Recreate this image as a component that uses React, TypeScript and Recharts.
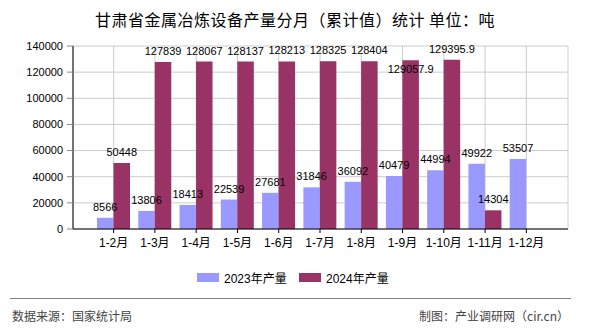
import React from 'react';
import { BarChart, Bar, XAxis, YAxis, CartesianGrid, LabelList } from 'recharts';

const categories = ['1-2月', '1-3月', '1-4月', '1-5月', '1-6月', '1-7月', '1-8月', '1-9月', '1-10月', '1-11月', '1-12月'];
const output2023 = [8566, 13806, 18413, 22539, 27681, 31846, 36092, 40479, 44994, 49922, 53507];
const output2024: (number | null)[] = [50448, 127839, 128067, 128137, 128213, 128325, 128404, 129057.9, 129395.9, 14304, null];
const yTicks = [0, 20000, 40000, 60000, 80000, 100000, 120000, 140000];
const seriesNames = ['2023年产量', '2024年产量'];
const colors = ['#9999FF', '#993366'];

const data = categories.map((c, i) => ({ name: c, a: output2023[i], b: output2024[i] }));

const FONT = '"Liberation Sans", "Noto Sans CJK SC", sans-serif';
const CJK = '"Noto Sans CJK SC", "Liberation Sans", sans-serif';
const LABEL_OFFSET = 7;
const CHAR_W = 6;
const BAR_SIZE = 16.5;

const makeLabel = (values: (number | null)[]) => (props: any) => {
  const { value, index } = props;
  const vb = props.viewBox || props;
  const x = vb.x, y = vb.y, width = vb.width, height = vb.height;
  if (value === null || value === undefined || !height) return null;
  const step = (width * 2) / 0.8;
  const bottom = y + height;
  const pxPerUnit = height / value;
  // simple collision avoidance: push a label down when it overlaps the previous one
  const shifts: number[] = [];
  for (let i = 0; i <= index; i++) {
    const v = values[i];
    shifts[i] = 0;
    if (v == null || i === 0) continue;
    const pv = values[i - 1];
    if (pv == null) continue;
    const w = String(v).length * CHAR_W;
    const pw = String(pv).length * CHAR_W;
    const base = bottom - v * pxPerUnit - LABEL_OFFSET;
    const pbase = bottom - pv * pxPerUnit - LABEL_OFFSET + shifts[i - 1];
    if (step < (w + pw) / 2 && Math.abs(base - pbase) < 12) shifts[i] = 20;
  }
  const cx = x + width / 2;
  return (
    <text x={cx} y={y - LABEL_OFFSET + shifts[index]} textAnchor="middle" fontSize={11} fontFamily={FONT} fill="#000">
      {String(value)}
    </text>
  );
};

export default function App() {
  return (
    <div style={{ position: 'relative', width: 590, height: 330, background: '#fff', overflow: 'hidden' }}>
      <style>{'body{margin:0}'}</style>
      <div style={{ position: 'absolute', top: 8, left: 0, width: 590, textAlign: 'center', fontSize: 16, fontFamily: CJK, color: '#000', lineHeight: '22px', letterSpacing: 0.5 }}>
        甘肃省金属冶炼设备产量分月（累计值）统计 单位：吨
      </div>
      <div style={{ position: 'absolute', top: 0, left: 0 }}>
        <BarChart width={590} height={330} data={data} margin={{ top: 46, right: 22, bottom: 71, left: 13 }} barCategoryGap="20%" barGap={0}>
          <CartesianGrid stroke="#cccccc" />
          <XAxis
            dataKey="name"
            height={30}
            padding={{ left: 20, right: 21 }}
            axisLine={{ stroke: '#000' }}
            tickLine={{ stroke: '#000' }}
            tickSize={4}
            tickMargin={5}
            interval={0}
            tick={{ fontSize: 12, fill: '#000', fontFamily: FONT }}
          />
          <YAxis
            width={60}
            domain={[0, 140000]}
            ticks={yTicks}
            axisLine={{ stroke: '#000' }}
            tickLine={{ stroke: '#888' }}
            tickSize={6}
            tickMargin={4}
            tick={{ fontSize: 11, fill: '#000', fontFamily: FONT }}
          />
          <YAxis yAxisId="r" orientation="right" width={0} tick={false} tickLine={false} axisLine={{ stroke: '#cccccc' }} />
          <Bar dataKey="a" fill={colors[0]} barSize={BAR_SIZE} isAnimationActive={false}>
            <LabelList dataKey="a" content={makeLabel(output2023)} />
          </Bar>
          <Bar dataKey="b" fill={colors[1]} barSize={BAR_SIZE} isAnimationActive={false}>
            <LabelList dataKey="b" content={makeLabel(output2024)} />
          </Bar>
        </BarChart>
      </div>
      {seriesNames.map((n, i) => (
        <div key={n} style={{ position: 'absolute', top: 269, left: 197 + i * 102, height: 16, display: 'flex', alignItems: 'center', fontFamily: FONT, fontSize: 12, color: '#000' }}>
          <span style={{ display: 'inline-block', width: 22, height: 9, background: colors[i], marginRight: 5 }} />
          <span>{n}</span>
        </div>
      ))}
      <div style={{ position: 'absolute', top: 298, left: 10, width: 561, height: 1, background: '#808080' }} />
      <div style={{ position: 'absolute', top: 308, left: 12, fontFamily: CJK, fontSize: 12, color: '#444', lineHeight: '16px' }}>数据来源：国家统计局</div>
      <div style={{ position: 'absolute', top: 308, right: 21, fontFamily: CJK, fontSize: 12, color: '#444', lineHeight: '16px' }}>制图：产业调研网（cir.cn）</div>
    </div>
  );
}
